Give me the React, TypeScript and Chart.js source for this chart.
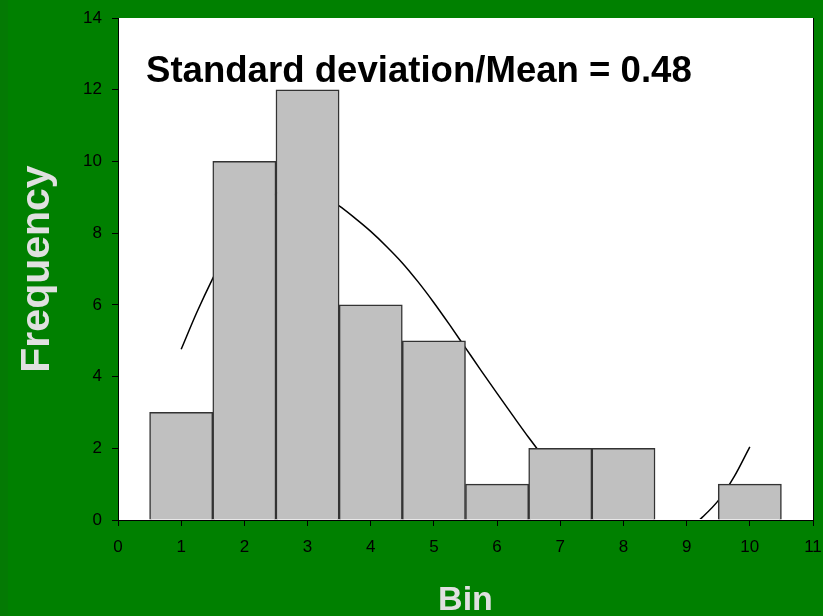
import React, { useEffect, useRef } from "react";
import { Chart, registerables } from "chart.js";

Chart.register(...registerables);

const bins = [1, 2, 3, 4, 5, 6, 7, 8, 9, 10];
const frequencies = [3, 10, 12, 6, 5, 1, 2, 2, 0, 1];

const curveX = [1.0, 1.25, 1.5, 1.75, 2.0, 2.25, 2.5, 2.75, 3.0, 3.25, 3.5, 3.75, 4.0, 4.25, 4.5, 4.75, 5.0, 5.25, 5.5, 5.75, 6.0, 6.25, 6.5, 6.75, 7.0, 7.25, 7.5, 7.75, 8.0, 8.25, 8.5, 8.75, 9.0, 9.25, 9.5, 9.75, 10.0];
const curveY = [4.76, 5.8, 6.74, 7.6, 8.3, 8.8, 9.1, 9.25, 9.2, 9.02, 8.76, 8.42, 8.05, 7.63, 7.17, 6.64, 6.06, 5.44, 4.8, 4.16, 3.53, 2.91, 2.3, 1.72, 1.17, 0.67, 0.25, -0.08, -0.33, -0.5, -0.58, -0.52, -0.3, 0.08, 0.54, 1.2, 2.04];

const xAxisMin = 0;
const xAxisMax = 11;
const yAxisMin = 0;
const yAxisMax = 14;
const yStep = 2;

const annotationText = "Standard deviation/Mean = 0.48";
const xTitle = "Bin";
const yTitle = "Frequency";

const FONT = "Arial, 'Liberation Sans', Helvetica, sans-serif";

const backgroundPlugin = {
  id: "bgPlugin",
  beforeDraw(chart: any) {
    const { ctx, chartArea } = chart;
    ctx.save();
    ctx.fillStyle = "#008000";
    ctx.fillRect(0, 0, chart.width, chart.height);
    ctx.fillStyle = "#047a04";
    ctx.fillRect(0, 0, 8, chart.height);
    ctx.fillStyle = "#ffffff";
    ctx.fillRect(chartArea.left, chartArea.top, chartArea.right - chartArea.left, chartArea.bottom - chartArea.top);
    ctx.restore();
  },
  afterDraw(chart: any) {
    const { ctx, chartArea } = chart;
    ctx.save();
    ctx.strokeStyle = "#000";
    ctx.lineWidth = 1;
    ctx.beginPath();
    ctx.moveTo(Math.round(chartArea.right) + 0.5, chartArea.top);
    ctx.lineTo(Math.round(chartArea.right) + 0.5, chartArea.bottom);
    ctx.stroke();
    ctx.fillStyle = "#000";
    ctx.font = `bold 36.6px ${FONT}`;
    ctx.textAlign = "left";
    ctx.textBaseline = "alphabetic";
    ctx.fillText(annotationText, chartArea.left + 28, chartArea.top + 64);
    ctx.restore();
  },
};

export default function App() {
  const ref = useRef<HTMLCanvasElement | null>(null);

  useEffect(() => {
    if (!ref.current) return;
    const chart = new Chart(ref.current, {
      type: "bar",
      data: {
        datasets: [
          {
            type: "bar",
            label: "Frequency",
            data: bins.map((b, i) => ({ x: b, y: frequencies[i] })),
            backgroundColor: "#c0c0c0",
            borderColor: "#333333",
            borderWidth: 1.5,
            borderSkipped: "start",
            barPercentage: 1,
            categoryPercentage: 1,
            order: 1,
          } as any,
          {
            type: "line",
            label: "Fit",
            data: curveX.map((x, i) => ({ x, y: curveY[i] })),
            borderColor: "#000000",
            borderWidth: 1.5,
            pointRadius: 0,
            cubicInterpolationMode: "monotone",
            fill: false,
            clip: { left: 0, top: 0, right: 0, bottom: -1 },
            order: 2,
          } as any,
        ],
      },
      options: {
        responsive: false,
        animation: false,
        layout: { padding: { left: 0, top: 18, right: 10, bottom: 0 } },
        plugins: { legend: { display: false }, tooltip: { enabled: false } },
        scales: {
          x: {
            type: "linear",
            min: xAxisMin,
            max: xAxisMax,
            offset: false,
            afterFit: (scale: any) => {
              scale.height = 96;
              scale.paddingRight = 0;
              scale.paddingLeft = 0;
            },
            ticks: { stepSize: 1, color: "#000", font: { size: 17, family: FONT }, padding: 11, maxRotation: 0 },
            grid: { drawOnChartArea: false, drawTicks: true, tickLength: 6, color: "#000", offset: false },
            border: { display: true, color: "#000", width: 1 },
            title: {
              display: true,
              text: xTitle,
              color: "#e0e0e0",
              font: { size: 34, weight: "bold", family: FONT, lineHeight: 0.9 },
              padding: { top: 0, bottom: 0 },
            },
          },
          y: {
            type: "linear",
            min: yAxisMin,
            max: yAxisMax,
            afterFit: (scale: any) => {
              scale.width = 118;
              scale.paddingTop = 0;
              scale.paddingBottom = 0;
            },
            ticks: { stepSize: yStep, color: "#000", font: { size: 17, family: FONT }, padding: 10 },
            grid: { drawOnChartArea: false, drawTicks: true, tickLength: 6, color: "#000" },
            border: { display: true, color: "#000", width: 1 },
            title: {
              display: true,
              text: yTitle,
              color: "#e0e0e0",
              font: { size: 41, weight: "bold", family: FONT, lineHeight: 1 },
              padding: { top: 17, bottom: 0 },
            },
          },
        },
      },
      plugins: [backgroundPlugin],
    });
    return () => chart.destroy();
  }, []);

  return (
    <div style={{ position: "absolute", left: 0, top: 0, width: 823, height: 616 }}>
      <canvas ref={ref} width={823} height={616} />
    </div>
  );
}
